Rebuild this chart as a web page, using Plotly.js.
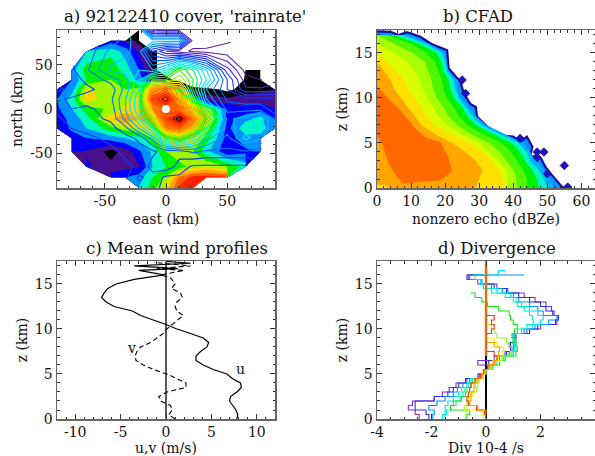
<!DOCTYPE html>
<html><head><meta charset="utf-8">
<script src="https://cdn.plot.ly/plotly-3.0.1.min.js"></script>
<style>html,body{margin:0;padding:0;background:#fff}#g{width:595px;height:456px}</style></head>
<body><div id="g"></div>
<script>
const W=-1000, N=null;
const gridX=[-89,-77,-65,-45,-33,-22,-11,0,11,22,33,50,65,77,89];
const gridY=[89,77,65,44,33,22,11,0,-11,-22,-33,-48,-65,-77,-89];
const coverZ=[
[W,W,W,W,W,0.5,W,W,W,W,W,W,W,W,W],
[W,W,W,2.5,1.8,0.6,W,W,W,W,W,W,W,W,W],
[W,W,4.2,4.6,3.6,1.8,0.5,-1,W,W,W,W,W,W,W],
[W,3.5,5.4,5.8,4.5,3,0.8,-1.5,W,W,W,W,0.2,0.5,W],
[W,3,5,6,5.2,3.6,1.5,0.8,-1,-3,-3,-3,0.3,0.6,W],
[2.5,3.5,7.2,6.5,6,6.5,8.5,8.5,5.5,1,0.5,-0.3,0.5,0.7,0.9],
[3,4.5,7.5,6.4,6.5,7.5,9.5,9.8,8,4.5,1.5,1.2,1.5,1.6,1.5],
[2.8,4,5.5,6.2,7.3,8,9,9.2,9.7,8.9,6.8,2.8,2.2,2.5,2],
[2.5,3.3,4.5,7.7,9.2,8,8.8,9.5,9.9,9.8,8.5,2.6,3.7,4.2,3],
[2.2,3.2,4,5.5,6.5,7,8,9.5,9.6,9.3,6.5,2.6,4.8,4.6,3],
[W,2.5,3,3.5,4,4.5,6,7.5,8.5,7.5,5.5,2.5,3.5,3.5,W],
[W,2.5,1.9,0.6,1.4,2.8,4.2,6,7,6,4.3,2.2,2.8,3.2,W],
[W,W,2.2,1.3,1.6,1.9,4,5,5.5,6.5,7,6,4.5,W,W],
[W,W,W,2.6,3,3.5,5,6.2,9.2,10.4,10.5,10.2,W,W,W],
[W,W,W,W,W,4,5.5,7.5,10.2,10.5,W,W,W,W,W]];
const coverColors=['#ffffff','#000000','#4a0f8c','#0000ff','#0090ff','#00f5c0','#00f000','#a0f500','#ffd500','#ffa500','#ff6000','#ff2000'];
const rainZ=[
[N,N,N,N,N,5,1.4,1.3,1.3,1.3,N,N,N,N,N],
[N,N,N,3.6,4.3,4.8,4.8,4.8,4.8,1.3,1.5,1.1,N,N,N],
[N,N,3.1,4.2,4.4,4.7,2.5,1.5,1.2,0.9,0.8,0.7,0.5,N,N],
[N,2.9,3.4,4.6,4.7,5,4.5,5.5,7.5,6.5,5,2.2,0.8,0.5,N],
[N,2.8,3.1,3.7,4.3,5.5,7.5,7.5,8.5,7,5.5,3,1.2,1,N],
[2.4,2.6,2.9,3.2,4.2,5.5,11,12,10.5,7,4.5,3,1.6,1.6,1.8],
[2.9,3.1,3.2,3.4,4.5,6,12.5,14,11,8,5,3.4,3.2,3.2,3.2],
[2.6,3,2.9,3.2,4.5,6,10,11.5,11,8.5,6,3.8,3.8,3.8,3.2],
[2.4,2.7,2.8,3.1,4.2,5.5,8,12.5,14.5,11,7,4.4,4.7,5.3,3.8],
[2.2,2.5,2.6,2.8,3.3,4.5,6,10.5,11.5,9,6,4.3,4.8,5.2,3.8],
[N,2.3,2.4,2.6,2.8,3.1,4.2,6.5,7.5,6,4.7,3.8,5.2,4.6,N],
[N,2.2,2.3,2.4,2.6,2.8,2.9,3.2,3.2,3.6,3.4,3.4,3.4,3.2,N],
[N,N,2.3,2.3,2.4,2.6,3.2,3.3,2.8,2.4,2.4,2.4,2.4,N,N],
[N,N,N,2.3,2.4,3.1,2.8,2.4,2.4,2.4,2.4,2.4,N,N,N],
[N,N,N,N,N,2.8,2.6,2.4,2.4,2.4,N,N,N,N,N]];
const rainColors=['#5a1fb0','#3a30f0','#0040ff','#0090ff','#00e8ff','#00f8c0','#00f800','#80ff00','#ffe800','#ffb000','#ff8000','#ff4000','#ff1000','#000000','#000000'];

const edgeDbz=[55,54.4,51,49.5,48,45,45.6,44,42,40,36.3,32.4,29.4,29,27.5,25.5,24.5,21,20.6,16,12.7,8.8,6.3,4,0];
const edgeZ=[0,0.1,1.6,2.3,3.4,3.6,4.6,5.7,5.1,5.7,5.85,6.8,7.9,9,9.3,10.5,11.8,13.3,15.3,16,16.8,17.3,17,17.35,17.4];
const cfadZ=[0,1,2,3,4,5,6,7,8,9,10,11,12,13,14,15,16,17];
const azureDbz=[52,51,49,47,45,43,37.5,32,29,27,24.5,23.5,23.5,21,20.5,20,15.5,9];
const aquaDbz=[50,49,47.5,45,44,41.5,36,30.5,28,26,24,23,22.5,20.5,20,19,14.5,7.5];
const greenDbz=[47.5,47,45.5,43.5,42,39.5,34,29,26.5,25,22.5,21.5,21,19.5,19,17.5,12.5,5];
const green2Dbz=[44,44,43,41,39.5,36.5,31,26.5,24,22.5,20.5,19.5,19,18,17,14.5,10,3];
const limeDbz=[41,41,40,38,36,33,27.5,23.5,21,19.5,17.5,16.5,16,15,14,10.5,5,0];
const yellowLimeDbz=[38,38.5,38,35.5,33,30,25,20.5,18,16.5,14.7,13.5,12.5,11,9,5,0,0];
const yellowDbz=[37,37,36,34,31,27,22,17,14.5,13,11,9,8,5.5,3,0.5,0,0];
const orangeDbz=[29,30,31,29,26,22,17,13,11,9,7,5,4,2,0,0,0,0];
const coreDbz=[0,2.9,6.9,10.8,14.2,18.6,21,22,18.6,7.8,5.9,3.4,1.5,0.2,0,0];
const coreZ=[11.3,10.1,8.6,6.8,5.6,5.1,3.4,1.8,0.85,0.5,1.2,2.7,4.9,5.7,5.7,11.3];
const patchDbz=[0,4,2,0];
const patchZ=[0,0,0.35,0.35];
const outlierDbz=[25,26,42,47,47,49,50,55,56];
const outlierZ=[12,10.5,5.5,4,3.4,4,1.6,2.5,0.1];

const uZ=[0,0.5,1,1.5,2,2.5,3,3.5,4,4.5,5,5.5,6,6.5,7,7.5,8,8.5,9,9.5,10,10.5,11,11.5,12,12.5,13,13.5,14,14.5,15,15.5,16,16.5,16.7,17,17.3,17.5];
const uWind=[7.8,7.9,7.7,7.3,7,7.1,7.8,8.3,8.2,7.3,6.7,5.2,4.1,3.3,3.3,3.8,4.5,4.7,4.1,2.7,1.2,0,-1.5,-2.8,-3.7,-5.7,-6.6,-7.1,-6.8,-6.4,-5.5,-3.5,-0.2,-3,1.3,-3.5,2.7,0];
const vZ=[0,0.5,1,1.5,2,2.5,3,3.5,4,4.5,5,5.5,6,6.5,7,7.5,8,8.5,9,9.5,10,10.5,11,11.5,12,12.5,13,13.5,14,14.5,15,15.7,16,16.5,16.7,17,17.4];
const vWind=[1,0.3,0.7,0.5,-0.6,-0.8,0.1,2.2,2.2,1.2,0.1,-1.4,-2.5,-3.3,-3.4,-3.2,-2.8,-1.7,-1,-0.3,0.1,0.7,1.4,1.9,1.2,1,1.2,1.8,1.6,0.6,1,0.5,-0.6,2,-1,2.7,-1.3];

const divZ=[0,0.5,1,1.5,2,2.5,3,3.5,4,4.5,5,5.5,6,6.5,7,7.5,8,8.5,9,9.5,10,10.5,11,11.5,12,12.5,13,13.5,14,14.5,15,15.5,16,16.5];
const divPurple=[-2.45,-2.6,-2.85,-2.7,-1.9,-1.6,-1.35,-1.1,-0.7,-0.3,0,0.05,-0.3,0.3,0.7,0.9,0.85,1,1,1.5,2,2.6,2.65,2.5,2.4,2.2,1.8,1.4,0.8,0.4,-0.3,-0.65,-0.1,N];
const divBlue=[-2.1,-2.2,-2.6,-2.6,-1.9,-1.4,-1.2,-1,-0.75,-0.25,0,0.1,0.1,0.4,0.75,0.95,0.9,1.05,1.1,1.6,1.9,2.55,2.65,2.45,2.2,2,1.6,1.2,0.75,0.3,-0.2,-0.7,0.1,N];
const divAzure=[-1.95,-1.9,-2.1,-1.8,-1.5,-1.2,-1.05,-0.85,-0.6,-0.2,-0.05,0.15,0.25,0.5,0.85,1,1,1.1,1.05,1.4,1.8,2.3,2.6,2.1,1.9,1.6,1.2,1,0.6,0.2,-0.15,-0.6,1.4,N];
const divCyan=[-1.6,-1.5,-1.5,-1.4,-1.2,-1,-0.9,-0.7,-0.55,-0.15,-0.05,0.2,0.35,0.6,0.95,1.05,1.05,1,1,1.3,1.7,2,2.1,1.9,1.6,1.3,1.1,0.9,0.4,0,-0.2,-0.4,0.45,0.7];
const divAqua=[-1.5,-1.45,-1.3,-1.1,-0.95,-0.85,-0.8,-0.65,-0.5,-0.15,-0.05,0.2,0.4,0.65,1,1.1,1.1,1.05,1,1.15,1.5,1.75,1.7,1.6,1.4,1.15,1,0.7,0.2,-0.1,-0.2,N,N,N];
const divGreen=[-0.7,-0.6,-1.3,-1.2,-0.9,-0.75,-0.7,-0.55,-0.4,-0.1,0,0.25,0.5,0.7,1.1,1.15,1.1,1.05,0.95,1.05,1.15,1,0.9,0.85,0.45,0.05,-0.15,-0.4,-0.55,N,N,N,N,N];
const divLime=[-0.75,-0.7,-0.8,-0.7,-0.65,-0.55,-0.35,-0.3,-0.25,-0.1,0,0.2,0.35,0.6,0.9,0.95,0.85,0.75,0.4,0.3,0.2,0.05,N,N,N,N,N,N,N,N,N,N,N,N];
const divYellow=[-0.1,-0.15,-0.7,-0.6,-0.6,-0.5,-0.45,-0.45,-0.35,-0.2,-0.05,0.15,0.25,0.45,0.6,0.65,0.4,0.3,0,N,N,N,N,N,N,N,N,N,N,N,N,N,N,N];
const divOrange=[0,0,-0.3,-0.6,-0.55,-0.55,-0.45,-0.4,-0.3,-0.15,-0.05,0.1,0.3,0.4,0.45,0.5,0.3,0,0,0,0,0,0,0,0,0,0,0,0,0,0,0,0,0];
const divRed=[0,-0.05,-0.35,-0.65,-0.7,-0.65,-0.6,-0.55,-0.4,-0.2,-0.1,0.1,0.3,0.4,0.3,0,0,0,0,0.2,0.3,0.2,0.3,0,N,N,N,N,N,N,N,N,N,N];

const tickA=[-50,0,50], tickALabels=['-50','0','50'];
const tickB=[0,10,20,30,40,50,60], tickBLabels=['0','10','20','30','40','50','60'];
const tickZ=[0,5,10,15], tickZLabels=['0','5','10','15'];
const tickC=[-10,-5,0,5,10], tickCLabels=['-10','-5','0','5','10'];
const tickD=[-4,-2,0,2,4], tickDLabels=['-4','-2','0','2','4'];

const SERIF='"DejaVu Serif", serif';
const frac=(c,n)=>c.map((v,i)=>[i/(n-1),v]);
const fillBand=(xs,ys,col,xa,ya,extra)=>Object.assign({type:'scatter',mode:'lines',x:xs,y:ys,fill:'tozerox',fillcolor:col,line:{width:0,color:col},xaxis:xa,yaxis:ya,hoverinfo:'skip',showlegend:false},extra||{});
const stepLine=(vals,col)=>({type:'scatter',mode:'lines',x:vals,y:divZ,line:{color:col,width:1.1,shape:'vh'},xaxis:'x4',yaxis:'y4',showlegend:false,hoverinfo:'skip'});

const traces=[
 {type:'contour',x:gridX,y:gridY,z:coverZ,xaxis:'x',yaxis:'y',autocontour:false,contours:{start:0,end:10,size:1,coloring:'fill',showlines:false},
  colorscale:frac(coverColors,coverColors.length),showscale:false,line:{width:0,smoothing:0},hoverinfo:'skip'},
 {type:'contour',x:gridX,y:gridY,z:rainZ,xaxis:'x',yaxis:'y',autocontour:false,contours:{start:1,end:15,size:0.5,coloring:'lines'},
  colorscale:frac(rainColors,rainColors.length),showscale:false,line:{width:1.1,smoothing:0},hoverinfo:'skip'},
 {type:'scatter',mode:'markers',x:[0],y:[0],xaxis:'x',yaxis:'y',marker:{color:'#ffffff',size:8},showlegend:false,hoverinfo:'skip'},

 fillBand(edgeDbz,edgeZ,'#0090ff','x2','y2',{line:{width:2.2,color:'#1a0a9c'}}),
 fillBand(azureDbz,cfadZ,'#00b0ff','x2','y2'),
 fillBand(aquaDbz,cfadZ,'#00f5c0','x2','y2'),
 fillBand(greenDbz,cfadZ,'#00f000','x2','y2'),
 fillBand(green2Dbz,cfadZ,'#50f500','x2','y2'),
 fillBand(limeDbz,cfadZ,'#a8ff00','x2','y2'),
 fillBand(yellowLimeDbz,cfadZ,'#d8ff00','x2','y2'),
 fillBand(yellowDbz,cfadZ,'#ffe000','x2','y2'),
 fillBand(orangeDbz,cfadZ,'#ffa500','x2','y2'),
 {type:'scatter',mode:'lines',x:coreDbz,y:coreZ,fill:'toself',fillcolor:'#ff6a00',line:{width:0},xaxis:'x2',yaxis:'y2',showlegend:false,hoverinfo:'skip'},
 {type:'scatter',mode:'lines',x:patchDbz,y:patchZ,fill:'toself',fillcolor:'#ffe000',line:{width:0},xaxis:'x2',yaxis:'y2',showlegend:false,hoverinfo:'skip'},
 {type:'scatter',mode:'markers',x:outlierDbz,y:outlierZ,xaxis:'x2',yaxis:'y2',marker:{symbol:'diamond',size:6.5,color:'#1a10d0',line:{color:'#20106a',width:0.8}},showlegend:false,hoverinfo:'skip'},

 {type:'scatter',mode:'lines',x:[0,0],y:[0,17.5],xaxis:'x3',yaxis:'y3',line:{color:'#222',width:1.5},showlegend:false,hoverinfo:'skip'},
 {type:'scatter',mode:'lines',name:'u',x:uWind,y:uZ,xaxis:'x3',yaxis:'y3',line:{color:'#000',width:1.2},showlegend:false,hoverinfo:'skip'},
 {type:'scatter',mode:'lines',name:'v',x:vWind,y:vZ,xaxis:'x3',yaxis:'y3',line:{color:'#000',width:1.1,dash:'5px,3px'},showlegend:false,hoverinfo:'skip'},

 {type:'scatter',mode:'lines',x:[0,0],y:[0,17.5],xaxis:'x4',yaxis:'y4',line:{color:'#000',width:2},showlegend:false,hoverinfo:'skip'},
 stepLine(divPurple,'#7a30d8'),stepLine(divBlue,'#2a30f0'),stepLine(divAzure,'#0090ff'),stepLine(divCyan,'#00e8ff'),stepLine(divAqua,'#00f5c0'),
 stepLine(divGreen,'#10ee10'),stepLine(divLime,'#90ff30'),stepLine(divYellow,'#ffee00'),stepLine(divRed,'#ff3010'),stepLine(divOrange,'#ffa000'),
 {type:'scatter',mode:'lines',x:[0,0],y:[7,17.5],xaxis:'x4',yaxis:'y4',line:{color:'#e86a10',width:2.4},showlegend:false,hoverinfo:'skip'}
];

const W0=595,H0=456;
const dx=(a,b)=>[a/W0,b/W0], dy=(top,bot)=>[1-bot/H0,1-top/H0];
const axis=(dom,anchor,range,tv,tt,minor,title,standoff)=>({domain:dom,anchor,range,tickmode:'array',tickvals:tv,ticktext:tt,ticks:'inside',ticklen:5,tickwidth:1,tickcolor:'#333',
  minor:{dtick:minor,tick0:0,ticks:'inside',ticklen:2.5,tickwidth:1,tickcolor:'#333',showgrid:false},
  showline:true,linecolor:'#666',linewidth:1.5,mirror:'allticks',showgrid:false,zeroline:false,fixedrange:true,
  tickfont:{family:SERIF,size:14,color:'#111'},title:{text:title,standoff,font:{family:SERIF,size:14,color:'#111'}},automargin:false});
const layout={width:W0,height:H0,margin:{l:0,r:0,t:0,b:0},paper_bgcolor:'#fff',plot_bgcolor:'#fff',showlegend:false,
 xaxis:axis(dx(57,275),'y',[-89,89],tickA,tickALabels,10,'east (km)',6),
 yaxis:axis(dy(30,188),'x',[-89,89],tickA,tickALabels,10,'north (km)',4),
 xaxis2:axis(dx(377,595),'y2',[0,64],tickB,tickBLabels,2,'nonzero echo (dBZe)',6),
 yaxis2:axis(dy(30,188),'x2',[0,17.55],tickZ,tickZLabels,1,'z (km)',4),
 xaxis3:axis(dx(57,275),'y3',[-12,12],tickC,tickCLabels,1,'u,v (m/s)',6),
 yaxis3:axis(dy(261,419),'x3',[0,17.55],tickZ,tickZLabels,1,'z (km)',4),
 xaxis4:axis(dx(377,595),'y4',[-4,4],tickD,tickDLabels,0.5,'Div 10-4 /s',6),
 yaxis4:axis(dy(261,419),'x4',[0,17.55],tickZ,tickZLabels,1,'z (km)',4),
 annotations:[
  ["a) 92122410 cover, 'rainrate'",185,17],["b) CFAD",478,17],["c) Mean wind profiles",177,248],["d) Divergence",497,248]
 ].map(([text,x,y])=>({text,x:x/W0,y:1-y/H0,xref:'paper',yref:'paper',showarrow:false,xanchor:'center',yanchor:'middle',font:{family:SERIF,size:16.5,color:'#111'}}))
 .concat([
  {text:'v',x:-3.8,y:7.9,xref:'x3',yref:'y3',showarrow:false,font:{family:SERIF,size:14,color:'#111'}},
  {text:'u',x:8.2,y:5.5,xref:'x3',yref:'y3',showarrow:false,font:{family:SERIF,size:14,color:'#111'}}
 ])
};
Plotly.newPlot('g',traces,layout,{staticPlot:true,displayModeBar:false});
</script></body></html>
